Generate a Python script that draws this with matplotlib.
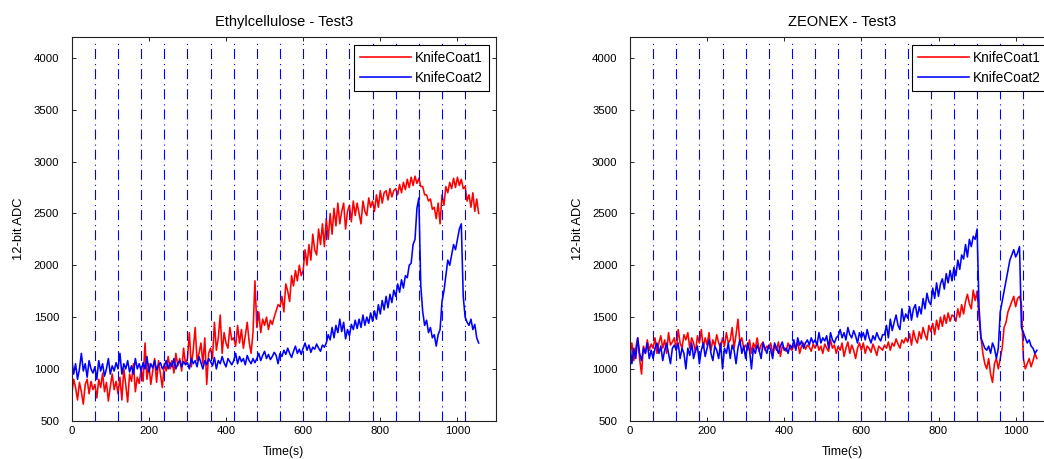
import numpy as np
import matplotlib
matplotlib.use("Agg")
import matplotlib.pyplot as plt

plt.rcParams['font.family'] = ['Liberation Sans', 'DejaVu Sans']
plt.rcParams['lines.scale_dashes'] = False

step = 5

# Ethylcellulose - Test3
eth_coat1 = [
    750, 900, 820, 700, 870, 780, 660, 850, 900, 760, 880, 800,
    850, 720, 900, 820, 960, 780, 870, 690, 830, 950, 800, 880,
    760, 920, 700, 1000, 850, 680, 950, 880, 1050, 780, 920, 860,
    1000, 880, 1250, 900, 1050, 850, 980, 1100, 870, 1080, 950, 820,
    1050, 980, 1120, 1000, 1080, 960, 1150, 1030, 1100, 980, 1200, 1050,
    1100, 1350, 1020, 1180, 1400, 1080, 1150, 1250, 1050, 1300, 850, 1150,
    1200, 1100, 1450, 1180, 1300, 1520, 1150, 1350, 1250, 1200, 1400, 1280,
    1300, 1220, 1420, 1250, 1380, 1200, 1320, 1450, 1260, 1150, 1350, 1850,
    1400, 1550, 1350, 1480, 1420, 1500, 1380, 1470, 1430, 1500, 1560, 1620,
    1600, 1700, 1550, 1820, 1750, 1650, 1900, 1800, 1950, 1850, 2000, 1900,
    1950, 2150, 2000, 2200, 2050, 2300, 2150, 2100, 2350, 2200, 2400, 2180,
    2450, 2250, 2500, 2300, 2550, 2380, 2600, 2400, 2520, 2600, 2350, 2520,
    2580, 2420, 2620, 2480, 2600, 2500, 2400, 2620, 2520, 2480, 2650, 2560,
    2620, 2520, 2680, 2560, 2720, 2600, 2700, 2720, 2630, 2740, 2660, 2720,
    2740, 2680, 2780, 2700, 2800, 2730, 2830, 2750, 2850, 2770, 2860, 2790,
    2840, 2760, 2760, 2680, 2680, 2620, 2640, 2540, 2560, 2450, 2600, 2400,
    2680, 2580, 2760, 2700, 2800, 2740, 2840, 2750, 2850, 2770, 2830, 2740,
    2760, 2620, 2680, 2560, 2700, 2520, 2640, 2500,
]
eth_coat2 = [
    1100, 950, 1050, 900, 1000, 1150, 980, 1050, 920, 1080, 1000, 960,
    1020, 900, 1080, 980, 1050, 930, 1000, 1100, 950, 1030, 980, 1060,
    1000, 1150, 950, 1050, 1000, 1080, 970, 1030, 950, 1100, 1000, 1050,
    980, 1060, 1000, 1120, 970, 1050, 1010, 1080, 990, 1040, 1060, 1000,
    1030, 1080, 1000, 1060, 1020, 1100, 1000, 1050, 1080, 1020, 1070, 1040,
    1060, 1000, 1100, 1050, 1080, 1020, 1120, 1060, 1000, 1080, 1040, 1100,
    1070, 1030, 1110, 1000, 1080, 1050, 1120, 1060, 1020, 1100, 1070, 1040,
    1080, 1150, 1050, 1120, 1070, 1100, 1040, 1130, 1080, 1050, 1100, 1060,
    1100, 1150, 1080, 1130, 1170, 1100, 1140, 1090, 1120, 1160, 1130, 1050,
    1150, 1120, 1180, 1140, 1200, 1150, 1110, 1170, 1220, 1150, 1190, 1140,
    1200, 1250, 1180, 1230, 1160, 1210, 1190, 1240, 1200, 1170, 1230, 1210,
    1250, 1330, 1280, 1400, 1300, 1420, 1350, 1480, 1360, 1450, 1290, 1380,
    1320, 1430, 1380, 1470, 1390, 1480, 1400, 1520, 1420, 1500, 1440, 1540,
    1460, 1560, 1480, 1620, 1530, 1660, 1570, 1700, 1590, 1720, 1640, 1760,
    1700, 1820, 1740, 1860, 1780, 1900, 1880, 2000, 2020, 2200, 2250, 2550,
    2650, 1800, 1550, 1420, 1470, 1350, 1400, 1300, 1330, 1220, 1330, 1380,
    1650, 1750, 1900, 2050, 2000, 2100, 2200, 2150, 2250, 2350, 2400, 1700,
    1500, 1450, 1420, 1480, 1380, 1430, 1300, 1250,
]

# ZEONEX - Test3
zeo_coat1 = [
    1150, 1250, 1080, 1200, 1300, 1100, 950, 1220, 1150, 1280, 1180, 1240,
    1200, 1300, 1150, 1250, 1320, 1200, 1280, 1150, 1350, 1230, 1260, 1300,
    1180, 1380, 1250, 1200, 1330, 1280, 1350, 1200, 1300, 1250, 1160, 1320,
    1250, 1380, 1200, 1300, 1230, 1350, 1180, 1280, 1220, 1330, 1250, 1200,
    1300, 1220, 1350, 1250, 1280, 1400, 1200, 1330, 1480, 1250, 1300, 1200,
    1230, 1180, 1280, 1150, 1250, 1200, 1300, 1170, 1230, 1260, 1180, 1220,
    1200, 1250, 1150, 1230, 1180, 1260, 1120, 1220, 1200, 1170, 1250, 1200,
    1180, 1230, 1200, 1260, 1150, 1220, 1250, 1190, 1230, 1210, 1170, 1240,
    1200, 1250, 1180, 1220, 1150, 1240, 1200, 1170, 1280, 1200, 1230, 1150,
    1220, 1180, 1250, 1120, 1200, 1260, 1150, 1230, 1180, 1100, 1200, 1250,
    1180, 1250, 1150, 1220, 1200, 1160, 1240, 1190, 1130, 1220, 1200, 1180,
    1230, 1200, 1260, 1180, 1250, 1220, 1290, 1240, 1200, 1280, 1250, 1300,
    1260, 1340, 1230, 1370, 1290, 1250, 1360, 1290, 1400, 1330, 1280, 1420,
    1360, 1440, 1330, 1470, 1380, 1500, 1410, 1520, 1440, 1540, 1460, 1520,
    1510, 1460, 1580, 1500, 1620, 1530, 1650, 1720, 1630, 1580, 1760, 1660,
    1750, 1500, 1300, 1150, 1050, 1000, 1100, 950, 870, 1050, 1100, 1000,
    1100, 1200, 1400, 1450, 1550, 1600, 1650, 1700, 1600, 1680, 1700, 1620,
    1100, 1000, 1050, 1100, 1020, 1080, 1150, 1100,
]
zeo_coat2 = [
    1250, 1050, 1200, 1100, 1300, 1150, 1080, 1200, 1150, 1250, 1100, 1180,
    1100, 1200, 1250, 1150, 1220, 1080, 1180, 1250, 1150, 1050, 1200, 1230,
    1180, 1250, 1100, 1200, 1150, 1000, 1200, 1130, 1250, 1100, 1180, 1220,
    1050, 1180, 1250, 1120, 1200, 1280, 1150, 1080, 1220, 1180, 1100, 1250,
    1000, 1200, 1150, 1250, 1100, 1230, 1180, 1050, 1200, 1280, 1150, 1220,
    1100, 1250, 1180, 1000, 1200, 1150, 1230, 1180, 1100, 1250, 1200, 1150,
    1230, 1180, 1100, 1250, 1200, 1150, 1220, 1260, 1180, 1200, 1150, 1230,
    1200, 1280, 1180, 1300, 1230, 1270, 1200, 1250, 1280, 1230, 1300, 1250,
    1280, 1230, 1350, 1250, 1300, 1270, 1320, 1200, 1350, 1280, 1250, 1300,
    1320, 1380, 1300, 1350, 1280, 1400, 1330, 1300, 1370, 1320, 1250, 1350,
    1300, 1350, 1280, 1380, 1300, 1250, 1320, 1280, 1350, 1300, 1270, 1330,
    1330, 1420, 1300, 1480, 1370, 1450, 1520, 1420, 1380, 1580, 1460, 1530,
    1490, 1600, 1470, 1580, 1620, 1500, 1600, 1530, 1680, 1580, 1730, 1650,
    1620, 1780, 1680, 1830, 1700, 1820, 1870, 1770, 1920, 1830, 1950, 1850,
    1980, 1900, 2050, 1960, 2100, 2060, 2200, 2080, 2250, 2180, 2280, 2250,
    2350, 1600, 1300, 1250, 1200, 1180, 1220, 1150, 1250, 1200, 1100, 1200,
    1550, 1650, 1750, 1850, 1950, 2050, 2100, 2150, 2080, 2120, 2180, 1400,
    1350, 1300, 1250, 1280, 1220, 1200, 1150, 1180,
]

# test step markers (s)
markers = [60 * k for k in range(1, 18)]

panels = [
    ("Ethylcellulose - Test3", eth_coat1, eth_coat2),
    ("ZEONEX - Test3", zeo_coat1, zeo_coat2),
]

fig = plt.figure(figsize=(10.44, 4.59), dpi=100)
ax_left = fig.add_axes([0.0687, 0.0834, 0.4064, 0.8353])
ax_right = fig.add_axes([0.6034, 0.0834, 0.4064, 0.8353])

for ax, (title, c1, c2) in zip([ax_left, ax_right], panels):
    t = np.arange(len(c1)) * step
    ax.plot(t, c1, color='r', lw=1.15, label='KnifeCoat1')
    ax.plot(t, c2, color='b', lw=1.15, label='KnifeCoat2')
    ax.vlines(markers, 500, 4150, colors='b', linestyles=[(0, (7.2, 2.9, 0.8, 3.6))],
              linewidth=0.8)
    ax.set_xlim(0, 1100)
    ax.set_ylim(500, 4200)
    ax.set_xticks(range(0, 1001, 200))
    ax.set_yticks(range(500, 4001, 500))
    ax.tick_params(direction='in', top=True, right=True, labelsize=8.2,
                   length=3, width=0.6)
    ax.tick_params(axis='y', pad=9)
    ax.tick_params(axis='x', pad=4)
    for s in ax.spines.values():
        s.set_linewidth(0.8)
        s.set_color('#222222')
    ax.set_title(title, fontsize=10.5, pad=8)
    ax.set_xlabel('Time(s)', fontsize=8.8, labelpad=7)
    ax.set_ylabel('12-bit ADC', fontsize=9.3, labelpad=6)
    leg = ax.legend(loc='upper right', fontsize=9.8, fancybox=False, framealpha=1,
                    edgecolor='black', handlelength=3.7, borderaxespad=0.55,
                    borderpad=0.45, labelspacing=0.45, handletextpad=0.3)
    leg.get_frame().set_linewidth(0.8)

fig.savefig('out.png', dpi=100)
